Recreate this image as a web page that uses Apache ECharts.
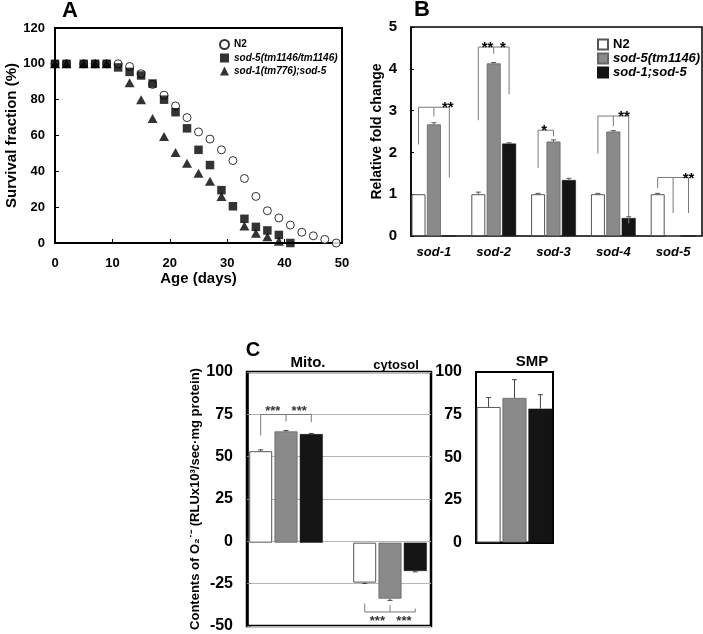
<!DOCTYPE html>
<html><head><meta charset="utf-8">
<script src="https://cdn.jsdelivr.net/npm/echarts@6/dist/echarts.min.js"></script>
<style>html,body{margin:0;padding:0;background:#fff}#c{width:703px;height:634px}</style>
</head><body><div id="c"></div>
<script>
// ---------- Panel A: survival ----------
const daysN2   = [0,2,5,7,9,11,13,15,17,19,21,23,25,27,29,31,33,35,37,39,41,43,45,47,49];
const survN2   = [100,100,100,100,100,100,98.5,94.5,88.5,82.5,76.5,70,62,58,52,46,36,26,18,14,10,6,4,2,0];
const daysSod5 = [0,2,5,7,9,11,13,15,17,19,21,23,25,27,29,31,33,35,37,39,41];
const survSod5 = [100,100,100,100,100,98,95.5,93.5,89,80,73,64,52,43.5,29.5,20.5,13.5,9,7,4.5,0];
const daysSod1 = [0,2,5,7,9,13,15,17,19,21,23,25,27,29,33,35,37,39];
const survSod1 = [100,100,100,100,100,89.5,80,69.5,59.5,50.5,44.5,39,34.5,26,9.5,5.5,3.5,1];

// ---------- Panel B: relative fold change ----------
const genesB     = ['sod-1','sod-2','sod-3','sod-4','sod-5'];
const foldN2     = [1,1,1,1,1];
const foldSod5   = [2.67,4.13,2.26,2.50,0];
const foldDouble = [0,2.21,1.34,0.43,0];
const errFoldN2     = [0,0.05,0.02,0.02,0.02];
const errFoldSod5   = [0.04,0.02,0.04,0.02,0];
const errFoldDouble = [0,0.02,0.04,0.03,0];
// significance brackets: category, bracket level, end level per bar (N2, sod-5, double), stars with bar position
const bracketsB = [
  {cat:0, top:3.08, ends:[2.19,2.86,1.40], stars:[{text:'**', pos:1.9}]},
  {cat:1, top:4.52, ends:[2.77,4.36,3.39], stars:[{text:'**', pos:0.6},{text:'*', pos:1.6}]},
  {cat:2, top:2.53, ends:[1.63,2.39,null], stars:[{text:'*', pos:0.4}]},
  {cat:3, top:2.87, ends:[1.97,2.63,0.30], stars:[{text:'**', pos:1.7}]},
  {cat:4, top:1.40, ends:[1.15,0.55,0.55], stars:[{text:'**', pos:2.0}]}
];

// ---------- Panel C: superoxide contents ----------
const fractionsC = ['Mito.','cytosol'];
const o2N2     = [53.6,-23.4];
const o2Sod5   = [65.2,-32.8];
const o2Double = [63.6,-16.6];
const errO2N2     = [0.8,0.5];
const errO2Sod5   = [0.5,1.0];
const errO2Double = [0.4,0.5];
const bracketsC = [
  {cat:0, top:75.1, ends:[62.8,71,70.6], stars:[{text:'***', pos:0.48},{text:'***', pos:1.52}]},
  {cat:1, top:-40.6, ends:[-35.7,-36.7,-38.6], below:true, stars:[{text:'***', pos:0.5},{text:'***', pos:1.55}]}
];
const fractionSMP = ['SMP'];
const smpN2 = [79.5], smpSod5 = [84.8], smpDouble = [78.5];
const errSmpN2 = [5.5], errSmpSod5 = [10.7], errSmpDouble = [8.2];

const ticksA_y = [0,20,40,60,80,100,120];

// ---------- rendering ----------
const FONT = "'Liberation Sans', Arial, Helvetica, sans-serif";
const chart = echarts.init(document.getElementById('c'));

const whiteStyle = {color:'#ffffff', borderColor:'#555', borderWidth:1};
const greyStyle  = {color:'#8a8a8a', borderColor:'#666', borderWidth:0.8};
const blackStyle = {color:'#141414', borderColor:'#141414', borderWidth:0.5};

function errSeries(name, xi, yi, vals, errs, barIdx, barW, gap, color){
  return {
    name:name, type:'custom', xAxisIndex:xi, yAxisIndex:yi, z:5, silent:true,
    data: vals.map((v,i)=>[i, v, errs[i]]),
    renderItem: function(params, api){
      const cat = api.value(0), v = api.value(1), e = api.value(2);
      if (!e) return null;
      const step = barW*(1+gap);
      const x = api.coord([cat,0])[0] + (barIdx-1)*step;
      const y0 = api.coord([cat,v])[1];
      const y1 = api.coord([cat, v + (v>=0?e:-e)])[1];
      const st = {stroke:color, lineWidth:1};
      return {type:'group', children:[
        {type:'line', shape:{x1:x,y1:y0,x2:x,y2:y1}, style:st},
        {type:'line', shape:{x1:x-2.5,y1:y1,x2:x+2.5,y2:y1}, style:st}
      ]};
    }
  };
}

function bracketSeries(name, xi, yi, brackets, barW, gap, starColor, starSize, dyAbove, dyBelow){
  return {
    name:name, type:'custom', xAxisIndex:xi, yAxisIndex:yi, z:6, silent:true,
    data: brackets.map(b=>[b.cat, b.top]),
    renderItem: function(params, api){
      const b = brackets[params.dataIndex];
      const step = barW*(1+gap);
      const cx = api.coord([b.cat,0])[0];
      const xs = [0,1,2].map(k=>cx+(k-1)*step);
      const yTop = api.coord([b.cat,b.top])[1];
      const idx = [];
      b.ends.forEach((e,k)=>{ if(e!==null) idx.push(k); });
      const st = {stroke:'#7a7a7a', lineWidth:1};
      const ch = [{type:'line', shape:{x1:xs[idx[0]],y1:yTop,x2:xs[idx[idx.length-1]],y2:yTop}, style:st}];
      b.ends.forEach((e,k)=>{
        if(e===null) return;
        const y = api.coord([b.cat,e])[1];
        ch.push({type:'line', shape:{x1:xs[k],y1:yTop,x2:xs[k],y2:y}, style:st});
      });
      b.stars.forEach(s=>{
        const x = cx + (s.pos-1)*step;
        ch.push({type:'text', x:x, y: yTop + (b.below ? dyBelow : dyAbove),
          style:{text:s.text, fill:starColor, font:'bold '+starSize+'px '+FONT,
                 align:'center', textAlign:'center', verticalAlign:'middle', textVerticalAlign:'middle'}});
      });
      return {type:'group', children:ch};
    }
  };
}

const axisLbl = (size)=>({color:'#000', fontWeight:'bold', fontSize:size, fontFamily:FONT});
const blackLine = (w)=>({show:true, onZero:false, lineStyle:{color:'#000', width:w}});

const BW = 14, BG = 0.10;   // panel B bars
const CW = 23, CG = 0.10;   // panel C bars
const SW = 24, SG = 0.08;   // SMP bars

const option = {
  animation:false,
  backgroundColor:'#fff',
  textStyle:{fontFamily:FONT, color:'#000'},
  grid:[
    {left:55, top:28, width:287, height:215, show:true, borderColor:'#000', borderWidth:2},
    {left:404, top:27, width:305, height:209},
    {left:411, top:27, width:291, height:209, show:true, borderColor:'#000', borderWidth:1.5},
    {left:234, top:372, width:208, height:256},
    {left:247, top:372, width:184, height:256, show:true, borderColor:'#000', borderWidth:2.5},
    {left:476, top:372, width:77, height:170.5, show:true, borderColor:'#000', borderWidth:2}
  ],
  xAxis:[
    {gridIndex:0, type:'value', min:0, max:50, interval:10, name:'Age (days)', nameLocation:'middle', nameGap:27,
     nameTextStyle:{fontSize:15, fontWeight:'bold', color:'#000', fontFamily:FONT},
     axisLine:blackLine(2), axisTick:{inside:true, length:4, lineStyle:{color:'#000'}},
     axisLabel:Object.assign(axisLbl(13),{margin:14}), splitLine:{show:false}},
    {gridIndex:1, type:'category', data:genesB, axisLine:{show:false}, axisTick:{show:false},
     axisLabel:{color:'#000', fontWeight:'bold', fontStyle:'italic', fontSize:13, fontFamily:FONT, margin:10}},
    {gridIndex:2, type:'value', min:0, max:1, show:false},
    {gridIndex:3, type:'category', data:fractionsC, show:false},
    {gridIndex:4, type:'value', min:0, max:1, show:false},
    {gridIndex:5, type:'category', data:fractionSMP, axisLine:blackLine(2), axisTick:{show:false}, axisLabel:{show:false}}
  ],
  yAxis:[
    {gridIndex:0, type:'value', min:0, max:120, interval:20, name:'Survival fraction (%)', nameLocation:'middle', nameGap:33,
     nameTextStyle:{fontSize:15, fontWeight:'bold', color:'#000', fontFamily:FONT},
     axisLine:blackLine(2), axisTick:{inside:true, length:4, lineStyle:{color:'#000'}},
     axisLabel:Object.assign(axisLbl(13),{margin:10, formatter:v=>ticksA_y.includes(v)?String(v):''}), splitLine:{show:false}},
    {gridIndex:1, type:'value', min:0, max:5, show:false},
    {gridIndex:2, type:'value', min:0, max:5, interval:1, name:'Relative fold change', nameLocation:'middle', nameGap:27,
     nameTextStyle:{fontSize:14, fontWeight:'bold', color:'#000', fontFamily:FONT},
     axisLine:blackLine(1.5), axisTick:{inside:true, length:3, lineStyle:{color:'#000'}},
     axisLabel:Object.assign(axisLbl(15),{margin:14}), splitLine:{show:false}},
    {gridIndex:3, type:'value', min:-50, max:100, show:false},
    {gridIndex:4, type:'value', min:-50, max:100, interval:25, name:'Contents of O\u2082\u02D9\u207B (RLUx10\u00B3/sec\u00B7mg protein)',
     nameLocation:'middle', nameGap:37,
     nameTextStyle:{fontSize:13, fontWeight:'bold', color:'#000', fontFamily:FONT},
     axisLine:blackLine(2.5), axisTick:{inside:true, length:4, lineStyle:{color:'#888'}},
     axisLabel:Object.assign(axisLbl(16),{margin:14}),
     splitLine:{show:true, lineStyle:{color:'#b5b5b5', width:1}}},
    {gridIndex:5, type:'value', min:0, max:100, interval:25,
     axisLine:blackLine(2), axisTick:{inside:true, length:4, lineStyle:{color:'#888'}},
     axisLabel:Object.assign(axisLbl(16),{margin:14}), splitLine:{show:false}}
  ],
  legend:[
    {data:['N2','sod-5(tm1146/tm1146)','sod-1(tm776);sod-5'], left:214, top:34, orient:'vertical',
     itemWidth:9, itemHeight:9, itemGap:3, selectedMode:false,
     textStyle:{fontSize:10, fontWeight:'bold', color:'#000', fontFamily:FONT,
       rich:{it:{fontSize:10, fontWeight:'bold', fontStyle:'italic', color:'#000', fontFamily:FONT}}},
     formatter:n=>n==='N2'?n:'{it|'+n+'}'},
    {data:['N2 ','sod-5(tm1146)','sod-1;sod-5'], left:592, top:33, orient:'vertical', icon:'rect',
     itemWidth:10, itemHeight:10, itemGap:1, selectedMode:false,
     textStyle:{fontSize:13, fontWeight:'bold', color:'#000', fontFamily:FONT,
       rich:{it:{fontSize:13, fontWeight:'bold', fontStyle:'italic', color:'#000', fontFamily:FONT}}},
     formatter:n=>n.trim()==='N2'?'N2':'{it|'+n+'}'}
  ],
  graphic:[
    {type:'text', x:70, y:11, style:{text:'A', font:'bold 22px '+FONT, fill:'#000', align:'center', textAlign:'center', verticalAlign:'middle', textVerticalAlign:'middle'}},
    {type:'text', x:422, y:10, style:{text:'B', font:'bold 22px '+FONT, fill:'#000', align:'center', textAlign:'center', verticalAlign:'middle', textVerticalAlign:'middle'}},
    {type:'text', x:253, y:350, style:{text:'C', font:'bold 20px '+FONT, fill:'#000', align:'center', textAlign:'center', verticalAlign:'middle', textVerticalAlign:'middle'}},
    {type:'text', x:308, y:363, style:{text:'Mito.', font:'bold 15px '+FONT, fill:'#000', align:'center', textAlign:'center', verticalAlign:'middle', textVerticalAlign:'middle'}},
    {type:'text', x:396, y:365, style:{text:'cytosol', font:'bold 13px '+FONT, fill:'#000', align:'center', textAlign:'center', verticalAlign:'middle', textVerticalAlign:'middle'}},
    {type:'text', x:532, y:362, style:{text:'SMP', font:'bold 15px '+FONT, fill:'#000', align:'center', textAlign:'center', verticalAlign:'middle', textVerticalAlign:'middle'}}
  ],
  series:[
    {name:'N2', type:'scatter', xAxisIndex:0, yAxisIndex:0, z:2, symbol:'circle', symbolSize:8,
     itemStyle:{color:'#fff', borderColor:'#000', borderWidth:1}, data:daysN2.map((d,i)=>[d,survN2[i]])},
    {name:'sod-1(tm776);sod-5', type:'scatter', xAxisIndex:0, yAxisIndex:0, z:3, symbol:'triangle', symbolSize:[10,9],
     itemStyle:{color:'#000'}, data:daysSod1.map((d,i)=>[d,survSod1[i]])},
    {name:'sod-5(tm1146/tm1146)', type:'scatter', xAxisIndex:0, yAxisIndex:0, z:4, symbol:'rect', symbolSize:8.5,
     itemStyle:{color:'#000'}, data:daysSod5.map((d,i)=>[d,survSod5[i]])},

    {name:'N2 ', type:'bar', xAxisIndex:1, yAxisIndex:1, barWidth:BW, barGap:(BG*100)+'%', itemStyle:whiteStyle, data:foldN2},
    {name:'sod-5(tm1146)', type:'bar', xAxisIndex:1, yAxisIndex:1, barWidth:BW, barGap:(BG*100)+'%', itemStyle:greyStyle, data:foldSod5},
    {name:'sod-1;sod-5', type:'bar', xAxisIndex:1, yAxisIndex:1, barWidth:BW, barGap:(BG*100)+'%', itemStyle:blackStyle, data:foldDouble},
    errSeries('eB0',1,1,foldN2,errFoldN2,0,BW,BG,'#555'),
    errSeries('eB1',1,1,foldSod5,errFoldSod5,1,BW,BG,'#555'),
    errSeries('eB2',1,1,foldDouble,errFoldDouble,2,BW,BG,'#555'),
    bracketSeries('brB',1,1,bracketsB,BW,BG,'#000',15,1,8),

    {name:'N2 (C)', type:'bar', xAxisIndex:3, yAxisIndex:3, barWidth:CW, barGap:(CG*100)+'%', itemStyle:whiteStyle, data:o2N2},
    {name:'sod-5 (C)', type:'bar', xAxisIndex:3, yAxisIndex:3, barWidth:CW, barGap:(CG*100)+'%', itemStyle:greyStyle, data:o2Sod5},
    {name:'double (C)', type:'bar', xAxisIndex:3, yAxisIndex:3, barWidth:CW, barGap:(CG*100)+'%', itemStyle:blackStyle, data:o2Double},
    errSeries('eC0',3,3,o2N2,errO2N2,0,CW,CG,'#444'),
    errSeries('eC1',3,3,o2Sod5,errO2Sod5,1,CW,CG,'#444'),
    errSeries('eC2',3,3,o2Double,errO2Double,2,CW,CG,'#444'),
    bracketSeries('brC',3,3,bracketsC,CW,CG,'#333',13,-3,9),

    {name:'N2 (SMP)', type:'bar', xAxisIndex:5, yAxisIndex:5, barWidth:SW, barGap:(SG*100)+'%', itemStyle:whiteStyle, data:smpN2},
    {name:'sod-5 (SMP)', type:'bar', xAxisIndex:5, yAxisIndex:5, barWidth:SW, barGap:(SG*100)+'%', itemStyle:greyStyle, data:smpSod5},
    {name:'double (SMP)', type:'bar', xAxisIndex:5, yAxisIndex:5, barWidth:SW, barGap:(SG*100)+'%', itemStyle:blackStyle, data:smpDouble},
    errSeries('eS0',5,5,smpN2,errSmpN2,0,SW,SG,'#444'),
    errSeries('eS1',5,5,smpSod5,errSmpSod5,1,SW,SG,'#444'),
    errSeries('eS2',5,5,smpDouble,errSmpDouble,2,SW,SG,'#444')
  ]
};
chart.setOption(option);
</script>
</body></html>
